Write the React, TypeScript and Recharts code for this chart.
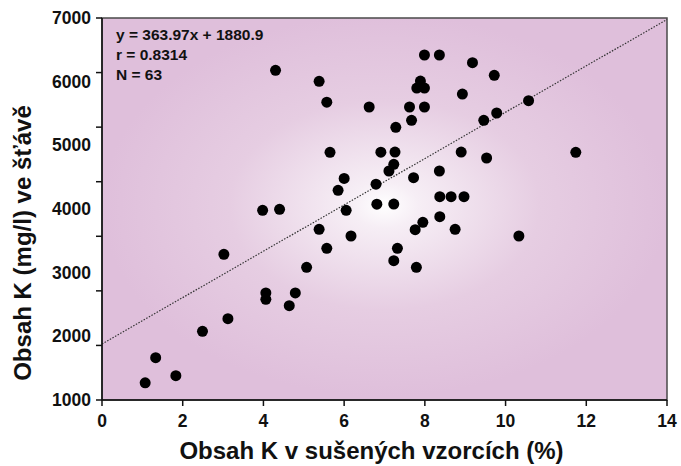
import {
  ScatterChart, Scatter, XAxis, YAxis, ReferenceArea, ReferenceLine,
} from 'recharts';

// obsah K v sušených vzorcích (%)
const sampleX = [
  1.07, 1.33, 1.83, 2.49, 3.02, 3.12, 3.98, 4.40, 4.06, 4.06,
  4.64, 4.79, 5.07, 5.38, 5.57, 5.85, 6.05, 6.17, 6.00, 6.79,
  6.81, 5.57, 6.62, 5.65, 6.91, 7.11, 7.99, 8.36, 9.18, 9.72,
  7.89, 7.80, 7.99, 8.93, 7.62, 7.99, 10.57, 9.78, 9.46, 7.67,
  7.28, 7.26, 8.90, 11.74, 9.53, 7.23, 8.36, 7.72, 7.23, 8.37,
  8.65, 8.97, 8.37, 7.95, 7.76, 8.75, 10.33, 7.32, 7.23, 7.79,
  4.30, 5.38,
];
// obsah K ve šťávě (mg/l)
const juiceK = [
  1270, 1665, 1382, 2079, 3288, 2277, 3979, 3995, 2681, 2582,
  2481, 2681, 3084, 3681, 3382, 4294, 3979, 3576, 4480, 4390,
  4075, 5678, 5602, 4891, 4893, 4597, 6419, 6419, 6298, 6099,
  6010, 5900, 5900, 5806, 5602, 5602, 5701, 5508, 5393, 5393,
  5283, 4895, 4895, 4891, 4801, 4702, 4597, 4492, 4078, 4193,
  4193, 4193, 3879, 3790, 3675, 3681, 3576, 3382, 3188, 3084,
  6178, 6005,
];

const xTicks = [0, 2, 4, 6, 8, 10, 12, 14];
const yTicks = [1000, 2000, 3000, 4000, 5000, 6000, 7000];
const minorTicks = [0, 1, 2, 3, 4, 5, 6, 7];

const slope = 363.97;
const intercept = 1880.9;
const statLines = ['y = 363.97x + 1880.9', 'r = 0.8314', 'N = 63'];

const data = sampleX.map((x, i) => ({ x, y: juiceK[i] }));

const FONT = '"Liberation Sans", Arial, sans-serif';
const textStyle = { fontWeight: 700, fill: '#111', fontFamily: FONT };

const XTick = ({ x, y, payload }: any) => (
  <text x={x} y={y + 17} textAnchor="middle" fontSize={17.5} fontWeight={700} fill="#111" fontFamily={FONT}>
    {payload.value}
  </text>
);

const YTick = ({ x, y, payload }: any) => (
  <text x={x} y={y} textAnchor="end" dominantBaseline="central" fontSize={17.5} fontWeight={700} fill="#111" fontFamily={FONT}>
    {payload.value}
  </text>
);

// id 0 = axis next to the plot (tick marks only), id 1 = value axis with labels
export default function App() {
  return (
    <div style={{ position: 'absolute', left: 0, top: 0, width: 681, height: 466, background: '#fff' }}>
      <ScatterChart width={681} height={466} margin={{ top: 18, right: 14, bottom: 6, left: 0 }}>
        <defs>
          <radialGradient id="plotBg" cx="0.5" cy="0.49" r="0.5">
            <stop offset="0" stopColor="#ffffff" />
            <stop offset="0.12" stopColor="#f6eef5" />
            <stop offset="0.55" stopColor="#e6cde2" />
            <stop offset="1" stopColor="#dfbfdb" />
          </radialGradient>
        </defs>
        <XAxis
          type="number"
          dataKey="x"
          domain={[0, 14]}
          ticks={xTicks}
          height={60}
          tick={<XTick />}
          tickSize={6}
          tickMargin={4}
          axisLine={{ stroke: '#111', strokeWidth: 1.5 }}
          tickLine={{ stroke: '#111', strokeWidth: 1.5 }}
          label={{
            value: 'Obsah K v sušených vzorcích (%)',
            content: ({ viewBox }: any) => (
              <text
                x={viewBox.x + viewBox.width / 2 - 13}
                y={viewBox.y + 59}
                textAnchor="middle"
                style={{ ...textStyle, fontSize: 24 }}
              >
                Obsah K v sušených vzorcích (%)
              </text>
            ),
          }}
        />
        <YAxis
          yAxisId={0}
          type="number"
          domain={[0, 7]}
          allowDataOverflow
          ticks={minorTicks}
          width={10}
          axisLine={{ stroke: '#111', strokeWidth: 1.5 }}
          tickSize={6}
          tick={() => <g />}
          tickLine={{ stroke: '#111', strokeWidth: 1.5 }}
        />
        <YAxis
          yAxisId={1}
          type="number"
          dataKey="y"
          domain={[1000, 7000]}
          ticks={yTicks}
          width={92}
          tick={<YTick />}
          tickLine={false}
          tickSize={0}
          tickMargin={1}
          axisLine={false}
          label={{
            value: 'Obsah K (mg/l) ve šťávě',
            content: () => (
              <text
                x={22}
                y={243}
                transform="rotate(-90, 22, 243)"
                textAnchor="middle"
                dominantBaseline="central"
                style={{ ...textStyle, fontSize: 24 }}
              >
                Obsah K (mg/l) ve šťávě
              </text>
            ),
          }}
        />
        <ReferenceArea
          yAxisId={1}
          x1={0}
          x2={14}
          y1={1000}
          y2={7000}
          fill="url(#plotBg)"
          fillOpacity={1}
          stroke="#4a4a4a"
          strokeWidth={1.5}
        />
        <ReferenceLine
          yAxisId={1}
          segment={[{ x: 0, y: intercept }, { x: 14, y: slope * 14 + intercept }]}
          stroke="#333"
          strokeWidth={1.2}
          strokeDasharray="1.5 1.5"
        />
        <Scatter
          yAxisId={1}
          data={data}
          isAnimationActive={false}
          shape={(p: any) => <circle cx={p.cx} cy={p.cy} r={5.5} fill="#000" />}
        />
      </ScatterChart>
      <div
        style={{
          position: 'absolute', left: 116, top: 25, fontFamily: FONT, fontWeight: 700,
          fontSize: 15.5, lineHeight: '20px', color: '#111',
        }}
      >
        {statLines.map((s) => <div key={s}>{s}</div>)}
      </div>
    </div>
  );
}
